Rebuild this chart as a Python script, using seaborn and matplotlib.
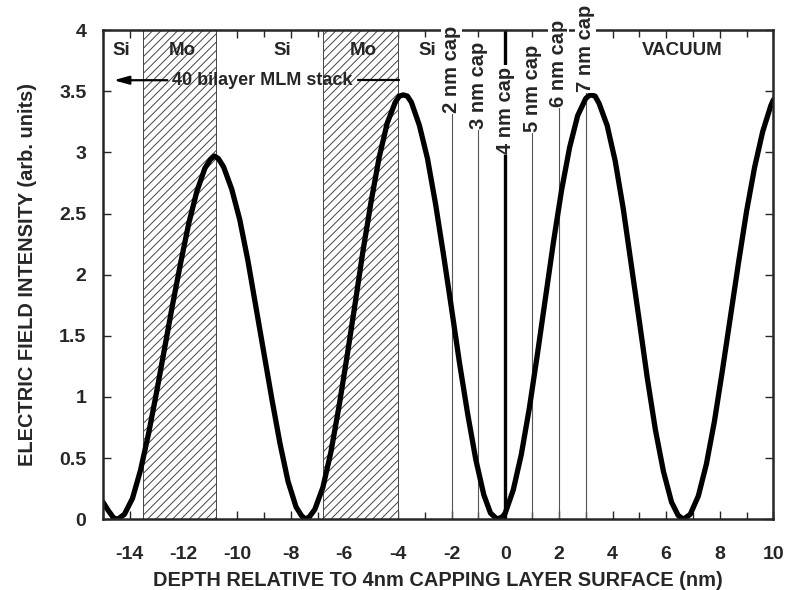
import numpy as np
import pandas as pd
import matplotlib
matplotlib.use("Agg")
import matplotlib.pyplot as plt
from matplotlib.ticker import MultipleLocator, FuncFormatter
import seaborn as sns

# Standing-wave electric field intensity vs depth (nm, relative to 4 nm cap surface)
depth = [
    -15.0, -14.8, -14.6, -14.45, -14.2, -13.9, -13.6, -13.3, -13.0, -12.7,
    -12.4, -12.1, -11.8, -11.5, -11.2, -11.0, -10.85, -10.7, -10.5, -10.2,
    -9.9, -9.6, -9.3, -9.0, -8.7, -8.4, -8.1, -7.8, -7.6, -7.45,
    -7.3, -7.1, -6.8, -6.5, -6.2, -5.9, -5.6, -5.3, -5.0, -4.7,
    -4.4, -4.1, -3.95, -3.8, -3.65, -3.5, -3.2, -2.9, -2.6, -2.3,
    -2.0, -1.7, -1.4, -1.1, -0.8, -0.55, -0.3, -0.1, 0.0, 0.3,
    0.6, 0.9, 1.2, 1.5, 1.8, 2.1, 2.4, 2.7, 3.0, 3.1,
    3.2, 3.35, 3.5, 3.8, 4.1, 4.4, 4.7, 5.0, 5.3, 5.6,
    5.9, 6.2, 6.45, 6.65, 6.9, 7.2, 7.5, 7.8, 8.1, 8.4,
    8.7, 9.0, 9.3, 9.6, 9.9, 10.0,
]
intensity = [
    0.14, 0.07, 0.01, 0.0, 0.04, 0.17, 0.40, 0.70, 1.04, 1.40,
    1.76, 2.10, 2.42, 2.68, 2.87, 2.94, 2.97, 2.95, 2.88, 2.70,
    2.45, 2.12, 1.74, 1.36, 0.98, 0.62, 0.31, 0.10, 0.03, 0.0,
    0.02, 0.08, 0.26, 0.55, 0.92, 1.33, 1.76, 2.20, 2.60, 2.96,
    3.24, 3.41, 3.46, 3.47, 3.46, 3.41, 3.22, 2.95, 2.58, 2.16,
    1.72, 1.27, 0.86, 0.49, 0.20, 0.05, 0.0, 0.02, 0.05, 0.24,
    0.53, 0.91, 1.35, 1.81, 2.27, 2.69, 3.04, 3.30, 3.44, 3.46,
    3.47, 3.46, 3.40, 3.22, 2.93, 2.54, 2.08, 1.62, 1.15, 0.73,
    0.39, 0.14, 0.03, 0.0, 0.04, 0.19, 0.45, 0.80, 1.22, 1.66,
    2.10, 2.52, 2.88, 3.17, 3.38, 3.43,
]

# Mo layers of the multilayer mirror (nm)
mo_layers = [(-13.5, -10.8), (-6.8, -4.0)]
layer_names = ["Si", "Mo", "Si", "Mo", "Si", "VACUUM"]
layer_name_x = [-14.3, -12.05, -8.3, -5.3, -2.9, 6.6]

# Candidate capping-layer surfaces
cap_pos = [-2, -1, 0, 1, 2, 3]
cap_labels = ["2 nm cap", "3 nm cap", "4 nm cap", "5 nm cap", "6 nm cap", "7 nm cap"]
cap_label_base = [3.32, 3.19, 2.99, 3.17, 3.37, 3.49]

x_ticks = list(range(-14, 11, 2))
y_ticks = [0, 0.5, 1, 1.5, 2, 2.5, 3, 3.5, 4]

sns.set_style("ticks")
plt.rcParams["font.family"] = ["Liberation Sans", "DejaVu Sans"]
plt.rcParams["font.weight"] = "bold"
plt.rcParams["axes.unicode_minus"] = False
plt.rcParams["hatch.linewidth"] = 0.7
plt.rcParams["hatch.color"] = "#333333"

fig = plt.figure(figsize=(7.86, 5.90), dpi=100)
ax = fig.add_axes([0.131, 0.120, 0.853, 0.829])

FS_TICK = 14
FS_AXIS = 14.4
FS_CAP = 14.5
FS_NOTE = 13.5

# Hatched Mo layers
for x0, x1 in mo_layers:
    ax.axvspan(x0, x1, facecolor="white", edgecolor="#444444", hatch="////",
               linewidth=0.7, zorder=1)

# Vertical marker lines for the cap surfaces
for xp, base in zip(cap_pos, cap_label_base):
    if xp == 0:
        ax.plot([xp, xp], [0, base], color="black", lw=2.4, zorder=2)
        ax.plot([xp, xp], [3.65, 4.0], color="black", lw=2.4, zorder=2)
    else:
        ax.plot([xp, xp], [0, base], color="#555555", lw=0.8, zorder=2)

df = pd.DataFrame({"depth": depth, "intensity": intensity})
sns.lineplot(data=df, x="depth", y="intensity", color="black", lw=3.8,
             ax=ax, zorder=4, sort=False)

# Cap labels
for xp, lab, base in zip(cap_pos, cap_labels, cap_label_base):
    ax.text(xp, base, lab, rotation=90, ha="center", va="bottom",
            fontsize=FS_CAP, fontweight="bold", zorder=6, clip_on=False,
            bbox=dict(boxstyle="square,pad=0.05", fc="white", ec="none"))

# Layer names
for name, xn in zip(layer_names, layer_name_x):
    ax.text(xn, 3.83, name, ha="center", va="center", fontsize=FS_NOTE,
            fontweight="bold", zorder=5)

# Multilayer stack arrow
ax.text(-9.05, 3.59, "40 bilayer MLM stack", ha="center", va="center",
        fontsize=13, fontweight="bold", zorder=5)
ax.annotate("", xy=(-14.6, 3.59), xytext=(-12.6, 3.59),
            arrowprops=dict(arrowstyle="-|>,head_length=0.9,head_width=0.25",
                            color="black", lw=1.6, shrinkA=0, shrinkB=0), zorder=5)
ax.plot([-5.5, -3.95], [3.59, 3.59], color="black", lw=1.6, zorder=5)

ax.set_xlim(-15, 10)
ax.set_ylim(0, 4)
ax.set_xticks(x_ticks)
ax.xaxis.set_minor_locator(MultipleLocator(1))
ax.set_yticks(y_ticks)
ax.xaxis.set_major_formatter(FuncFormatter(lambda v, p: f"{v:g}"))
ax.yaxis.set_major_formatter(FuncFormatter(lambda v, p: f"{v:g}"))
ax.tick_params(which="both", direction="in", top=True, right=True,
               labelsize=FS_TICK, width=1.0)
ax.tick_params(which="major", length=6)
ax.tick_params(which="minor", length=5)
ax.tick_params(axis="x", which="major", pad=19)
ax.tick_params(axis="y", which="major", pad=12)
for lab in ax.get_xticklabels() + ax.get_yticklabels():
    lab.set_fontweight("bold")
for sp in ax.spines.values():
    sp.set_linewidth(1.8)
    sp.set_zorder(5)

ax.set_xlabel("DEPTH RELATIVE TO 4nm CAPPING LAYER SURFACE (nm)",
              fontsize=FS_AXIS, fontweight="bold", labelpad=6)
ax.set_ylabel("ELECTRIC FIELD INTENSITY (arb. units)", fontsize=FS_AXIS,
              fontweight="bold", labelpad=16)

fig.savefig("out.png", dpi=100)
